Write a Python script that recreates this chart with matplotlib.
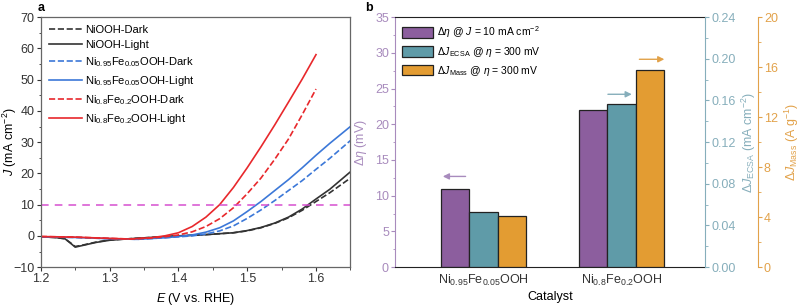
import matplotlib
matplotlib.use("Agg")
import matplotlib.pyplot as plt
import matplotlib.ticker as mticker
import numpy as np

plt.rcParams["font.family"] = ["Liberation Sans", "DejaVu Sans"]
plt.rcParams["mathtext.fontset"] = "custom"
plt.rcParams["mathtext.rm"] = "Liberation Sans"
plt.rcParams["mathtext.it"] = "Liberation Sans:italic"
plt.rcParams["mathtext.bf"] = "Liberation Sans:bold"

# ---- panel a: LSV curves ----
E_nioh = [1.20, 1.22, 1.235, 1.243, 1.25, 1.26, 1.28, 1.30, 1.33, 1.36, 1.40, 1.44, 1.48,
          1.50, 1.52, 1.54, 1.56, 1.58, 1.60, 1.62, 1.65]
J_nioh_dark = [-0.3, -0.5, -0.9, -2.2, -3.4, -3.0, -2.0, -1.3, -0.9, -0.5, 0.0, 0.4, 1.0,
               1.6, 2.6, 4.0, 5.8, 8.2, 11.0, 13.8, 18.5]
J_nioh_light = [-0.3, -0.5, -0.9, -2.3, -3.6, -3.1, -2.1, -1.4, -0.9, -0.5, 0.0, 0.4, 1.0,
                1.7, 2.7, 4.1, 6.0, 8.6, 11.8, 14.9, 20.5]

E_fe05 = [1.20, 1.25, 1.30, 1.34, 1.38, 1.40, 1.42, 1.44, 1.46, 1.48, 1.50, 1.52, 1.54,
          1.56, 1.58, 1.60, 1.62, 1.65]
J_fe05_dark = [-0.3, -0.5, -0.9, -1.1, -0.6, -0.3, 0.0, 0.6, 1.6, 3.2, 5.6, 8.3, 11.3,
               14.5, 17.7, 21.3, 24.8, 30.5]
J_fe05_light = [-0.3, -0.5, -0.9, -1.1, -0.6, -0.2, 0.3, 1.2, 2.6, 4.8, 7.8, 11.0, 14.5,
                18.0, 21.8, 25.8, 29.6, 35.0]

E_fe2 = [1.20, 1.25, 1.30, 1.33, 1.36, 1.38, 1.40, 1.42, 1.44, 1.46, 1.48, 1.50, 1.52,
         1.54, 1.56, 1.58, 1.60]
J_fe2_dark = [-0.2, -0.4, -0.8, -1.0, -0.7, -0.3, 0.3, 1.3, 3.0, 5.5, 9.0, 13.5, 18.5,
              24.5, 31.0, 38.8, 47.0]
J_fe2_light = [-0.2, -0.4, -0.8, -1.0, -0.6, 0.0, 1.0, 3.0, 6.0, 10.0, 15.5, 21.8, 28.5,
               35.5, 42.8, 50.2, 58.0]

J_ref = 10

# ---- panel b: bars ----
catalysts = [r"Ni$_{0.95}$Fe$_{0.05}$OOH", r"Ni$_{0.8}$Fe$_{0.2}$OOH"]
d_eta = [11.0, 22.0]            # mV, left axis
d_j_ecsa = [0.053, 0.157]       # mA cm-2
d_j_mass = [4.1, 15.8]          # A g-1

c_black, c_blue, c_red = "#333333", "#3c78d8", "#e8282c"
c_pur, c_teal, c_orng = "#8c5e9e", "#5f9ba8", "#e39c32"
c_pur_t, c_teal_t, c_orng_t = "#a88bbd", "#86aebb", "#e2a24a"

fig = plt.figure(figsize=(8.0, 3.06), dpi=100)


def style_ticks(a, axis, color):
    a.tick_params(axis=axis, which="both", direction="out", colors=color, labelsize=9,
                  pad=1.5)
    a.tick_params(axis=axis, which="major", length=3)
    a.tick_params(axis=axis, which="minor", length=1.8)


# ---------- a ----------
ax = fig.add_axes([0.051, 0.127, 0.387, 0.817])
ax.plot(E_nioh, J_nioh_dark, "--", color=c_black, lw=1.2, label="NiOOH-Dark")
ax.plot(E_nioh, J_nioh_light, "-", color=c_black, lw=1.2, label="NiOOH-Light")
ax.plot(E_fe05, J_fe05_dark, "--", color=c_blue, lw=1.2,
        label=r"Ni$_{0.95}$Fe$_{0.05}$OOH-Dark")
ax.plot(E_fe05, J_fe05_light, "-", color=c_blue, lw=1.2,
        label=r"Ni$_{0.95}$Fe$_{0.05}$OOH-Light")
ax.plot(E_fe2, J_fe2_dark, "--", color=c_red, lw=1.2,
        label=r"Ni$_{0.8}$Fe$_{0.2}$OOH-Dark")
ax.plot(E_fe2, J_fe2_light, "-", color=c_red, lw=1.2,
        label=r"Ni$_{0.8}$Fe$_{0.2}$OOH-Light")
ax.axhline(J_ref, color="#d64fd0", ls=(0, (5, 4)), lw=1.1)

ax.set_xlim(1.2, 1.65)
ax.set_ylim(-10, 70)
ax.xaxis.set_major_locator(mticker.MultipleLocator(0.1))
ax.xaxis.set_minor_locator(mticker.MultipleLocator(0.05))
ax.yaxis.set_major_locator(mticker.MultipleLocator(10))
ax.yaxis.set_minor_locator(mticker.MultipleLocator(5))
style_ticks(ax, "both", "#333333")
for s in ax.spines.values():
    s.set_color("#666666")
    s.set_linewidth(0.9)
ax.set_xlabel(r"$E$ (V vs. RHE)", fontsize=9)
ax.xaxis.set_label_coords(0.5, -0.095)
ax.set_ylabel(r"$J$ (mA cm$^{-2}$)", fontsize=9)
ax.yaxis.set_label_coords(-0.072, 0.5)
ax.legend(loc="upper left", frameon=False, fontsize=8, handlelength=3.0,
          handletextpad=0.3, labelspacing=0.45, borderaxespad=0.3,
          bbox_to_anchor=(0.0, 1.0))
fig.text(0.047, 0.965, "a", fontsize=9, fontweight="bold")

# ---------- b ----------
bx = fig.add_axes([0.494, 0.127, 0.387, 0.817])
x = np.arange(1, len(catalysts) + 1)
w = 0.205
bx.bar(x - w, d_eta, w, color=c_pur, edgecolor="#222222", lw=0.9,
       label=r"$\Delta\eta$ @ $J$ = 10 mA cm$^{-2}$")
bx.set_xlim(0.36, 2.603)
bx.set_ylim(0, 35)
bx.yaxis.set_major_locator(mticker.MultipleLocator(5))
bx.yaxis.set_minor_locator(mticker.MultipleLocator(2.5))
bx.set_xticks(x)
bx.set_xticklabels(catalysts, fontsize=9)
bx.tick_params(axis="x", length=0, pad=4, colors="#333333")
style_ticks(bx, "y", c_pur_t)
bx.spines["left"].set_color(c_pur_t)
bx.spines["top"].set_color("#222222")
bx.spines["bottom"].set_color("#222222")
bx.spines["right"].set_visible(False)
bx.set_xlabel("Catalyst", fontsize=9)
bx.xaxis.set_label_coords(0.5, -0.095)
bx.set_ylabel(r"$\Delta\eta$ (mV)", fontsize=9, color=c_pur_t)
bx.yaxis.set_label_coords(-0.085, 0.5)

tx = bx.twinx()
tx.bar(x, d_j_ecsa, w, color=c_teal, edgecolor="#222222", lw=0.9,
       label=r"$\Delta J_{\mathrm{ECSA}}$ @ $\eta$ = 300 mV")
tx.set_ylim(0, 0.24)
tx.yaxis.set_major_locator(mticker.MultipleLocator(0.04))
tx.yaxis.set_minor_locator(mticker.MultipleLocator(0.02))
tx.yaxis.set_major_formatter(mticker.FormatStrFormatter("%.2f"))
style_ticks(tx, "y", c_teal_t)
for k in ("left", "top", "bottom"):
    tx.spines[k].set_visible(False)
tx.spines["right"].set_color(c_teal_t)
tx.set_ylabel(r"$\Delta J_{\mathrm{ECSA}}$ (mA cm$^{-2}$)", fontsize=9, color=c_teal_t)
tx.yaxis.set_label_coords(1.114, 0.5)

ox = bx.twinx()
ox.bar(x + w, d_j_mass, w, color=c_orng, edgecolor="#222222", lw=0.9,
       label=r"$\Delta J_{\mathrm{Mass}}$ @ $\eta$ = 300 mV")
ox.set_ylim(0, 20)
ox.yaxis.set_major_locator(mticker.MultipleLocator(4))
ox.yaxis.set_minor_locator(mticker.MultipleLocator(2))
ox.spines["right"].set_position(("outward", 38))
style_ticks(ox, "y", c_orng_t)
for k in ("left", "top", "bottom"):
    ox.spines[k].set_visible(False)
ox.spines["right"].set_color(c_orng_t)
ox.set_ylabel(r"$\Delta J_{\mathrm{Mass}}$ (A g$^{-1}$)", fontsize=9, color=c_orng_t)
ox.yaxis.set_label_coords(1.252, 0.5)

# direction arrows
bx.annotate("", xy=(0.685, 12.7), xytext=(0.89, 12.7),
            arrowprops=dict(arrowstyle="-|>", color=c_pur_t, lw=1.0, mutation_scale=9))
bx.annotate("", xy=(2.094, 24.2), xytext=(1.881, 24.2),
            arrowprops=dict(arrowstyle="-|>", color=c_teal_t, lw=1.0, mutation_scale=9))
bx.annotate("", xy=(2.33, 29.1), xytext=(2.109, 29.1),
            arrowprops=dict(arrowstyle="-|>", color=c_orng_t, lw=1.0, mutation_scale=9))

handles = [h for a in (bx, tx, ox) for h in a.get_legend_handles_labels()[0]]
labels = [l for a in (bx, tx, ox) for l in a.get_legend_handles_labels()[1]]
ox.legend(handles, labels, loc="upper left", frameon=False, fontsize=7.5,
          handlelength=2.9, handleheight=1.2, handletextpad=0.4, labelspacing=0.45,
          borderaxespad=0.3, bbox_to_anchor=(0.0, 1.0))
fig.text(0.456, 0.965, "b", fontsize=9, fontweight="bold")

fig.savefig("out.png", dpi=100)
